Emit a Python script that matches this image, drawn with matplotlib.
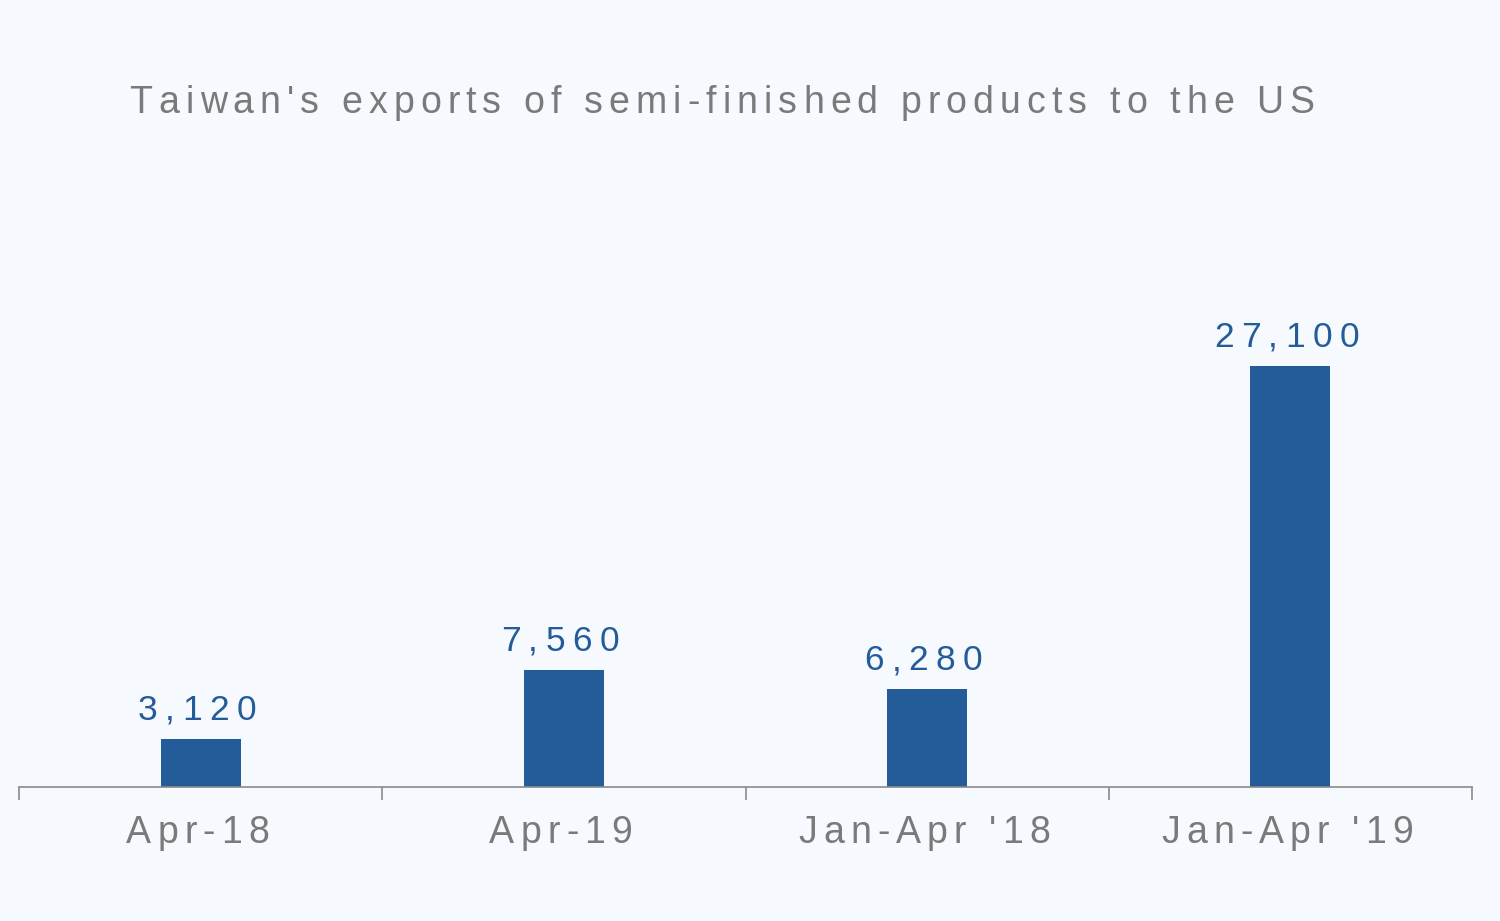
import matplotlib
matplotlib.use("Agg")
import matplotlib.pyplot as plt
import matplotlib.transforms as mtransforms
from matplotlib import font_manager

# ---------------- data ----------------
categories = ["Apr-18", "Apr-19", "Jan-Apr '18", "Jan-Apr '19"]
values = [3120, 7560, 6280, 27100]
title = "Taiwan's exports of semi-finished products to the US"

BG = "#F6FAFE"
BAR = "#245B99"
GREY = "#7A7A7A"
AXIS = "#8A8A8A"
FAMILY = "Liberation Sans"

fig = plt.figure(figsize=(15, 9.21), dpi=100, facecolor=BG)
ax = fig.add_axes([19 / 1500, 1 - 787 / 921, (1472 - 19) / 1500, (787 - 150) / 921])
ax.set_facecolor(BG)

x = list(range(len(categories)))
ax.bar(x, values, width=0.22, color=BAR, zorder=2)

ax.set_xlim(-0.5, len(categories) - 0.5)
ax.set_ylim(0, 41000)
for s in ["top", "right", "left"]:
    ax.spines[s].set_visible(False)
ax.spines["bottom"].set_color(AXIS)
ax.spines["bottom"].set_linewidth(1.2)
ax.set_yticks([])
ax.set_xticks([i - 0.5 for i in range(len(categories) + 1)])
ax.set_xticklabels([])
ax.tick_params(axis="x", length=9, width=1.2, color=AXIS, direction="out")


# text with letter spacing (tracking in px), drawn char by char
def advances(s, size):
    prop = font_manager.FontProperties(family=FAMILY, size=size)
    font = font_manager.get_font(font_manager.findfont(prop))
    font.set_size(size, fig.dpi)
    return [font.load_char(ord(c)).linearHoriAdvance / 65536 for c in s]


def tracked(x0, y0, s, trans, size, color, track, dy=0):
    adv = advances(s, size)
    # spacing after every char, last one too (like css letter-spacing)
    total = sum(adv) + track * len(s)
    pos = -total / 2
    for c, a in zip(s, adv):
        off = mtransforms.ScaledTranslation(pos / fig.dpi, dy / fig.dpi, fig.dpi_scale_trans)
        ax.text(x0, y0, c, transform=trans + off, fontsize=size, family=FAMILY,
                color=color, ha="left", va="baseline", clip_on=False)
        pos += a + track


# value labels
for xi, v in zip(x, values):
    tracked(xi, v, f"{v:,}", ax.transData, 25.5, BAR, 7.4, dy=19)

# category labels
lab_trans = mtransforms.blended_transform_factory(ax.transData, ax.transAxes)
for xi, c in zip(x, categories):
    tracked(xi, 0, c, lab_trans, 27, GREY, 6.1, dy=-56)

# title
tracked(725 / 1500, 1 - 113 / 921, title, fig.transFigure, 27, GREY, 6.1)

fig.savefig("out.png", dpi=100, facecolor=BG)
